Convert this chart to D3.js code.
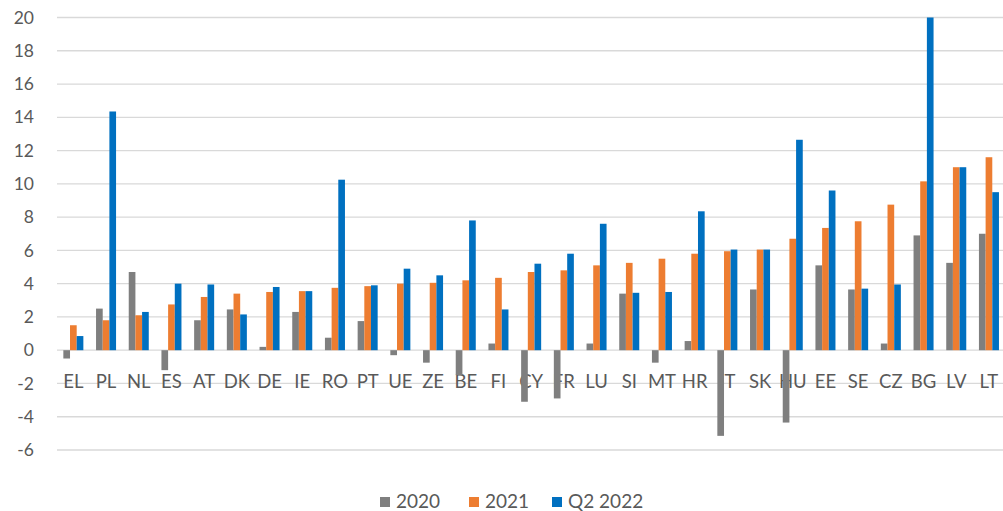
<!DOCTYPE html>
<html>
<head>
<meta charset="utf-8">
<script src="https://cdn.jsdelivr.net/npm/d3@7"></script>
<style>
  body { margin: 0; background: #fff; }
  svg { display: block; font-family: Lato, "Open Sans", sans-serif; }
</style>
</head>
<body>
<script>
var width = 1003;
var height = 511;

var countries = ["EL","PL","NL","ES","AT","DK","DE","IE","RO","PT","UE","ZE","BE","FI","CY","FR","LU","SI","MT","HR","IT","SK","HU","EE","SE","CZ","BG","LV","LT"];
var seriesNames = ["2020", "2021", "Q2 2022"];
var colors = ["#7f7f7f", "#ed7d31", "#0070c0"];

var v2020 = [-0.5, 2.5, 4.7, -1.2, 1.8, 2.45, 0.2, 2.3, 0.75, 1.75, -0.3, -0.75, -1.5, 0.4, -3.1, -2.9, 0.4, 3.4, -0.75, 0.55, -5.15, 3.65, -4.35, 5.1, 3.65, 0.4, 6.9, 5.25, 7.0];
var v2021 = [1.5, 1.8, 2.1, 2.75, 3.2, 3.4, 3.5, 3.55, 3.75, 3.85, 4.0, 4.05, 4.2, 4.35, 4.7, 4.8, 5.1, 5.25, 5.5, 5.8, 5.95, 6.05, 6.7, 7.35, 7.75, 8.75, 10.15, 11.0, 11.6];
var vQ2 = [0.85, 14.35, 2.3, 4.0, 3.95, 2.15, 3.8, 3.55, 10.25, 3.9, 4.9, 4.5, 7.8, 2.45, 5.2, 5.8, 7.6, 3.45, 3.5, 8.35, 6.05, 6.05, 12.65, 9.6, 3.7, 3.95, 20, 11.0, 9.5];
var yTicks = [20, 18, 16, 14, 12, 10, 8, 6, 4, 2, 0, -2, -4, -6];

var allValues = [v2020, v2021, vQ2];

var svg = d3.select("body").append("svg")
    .attr("width", width)
    .attr("height", height);

var y = d3.scaleLinear()
    .domain([-6, 20])
    .range([450, 17.5]);

var x = d3.scaleBand()
    .domain(countries)
    .range([57, 57 + 29 * 32.7])
    .padding(0);

var xSub = d3.scaleBand()
    .domain(seriesNames)
    .range([0, x.bandwidth()])
    .paddingInner(0)
    .paddingOuter(0.95);

// gridlines
svg.append("g")
  .selectAll("line")
  .data(yTicks)
  .enter().append("line")
    .attr("x1", 57)
    .attr("x2", width)
    .attr("y1", function(d) { return y(d); })
    .attr("y2", function(d) { return y(d); })
    .attr("stroke", "#d9d9d9")
    .attr("stroke-width", 1.3);

// y tick labels
svg.append("g")
  .selectAll("text")
  .data(yTicks)
  .enter().append("text")
    .attr("x", 34)
    .attr("y", function(d) { return y(d); })
    .attr("dy", "0.35em")
    .attr("text-anchor", "end")
    .attr("fill", "#595959")
    .style("font-size", "17.5px")
    .text(function(d) { return d; });

// category labels (drawn under the bars, as in the original)
svg.append("g")
  .selectAll("text")
  .data(countries)
  .enter().append("text")
    .attr("x", function(d) { return x(d) + x.bandwidth() / 2; })
    .attr("y", 388)
    .attr("text-anchor", "middle")
    .attr("fill", "#595959")
    .style("font-size", "18.5px")
    .text(function(d) { return d; });

// bars
seriesNames.forEach(function(s, i) {
  svg.append("g")
    .selectAll("rect")
    .data(allValues[i])
    .enter().append("rect")
      .attr("x", function(d, j) { return x(countries[j]) + xSub(s); })
      .attr("width", xSub.bandwidth())
      .attr("y", function(d) { return y(Math.max(0, d)); })
      .attr("height", function(d) { return Math.abs(y(d) - y(0)); })
      .attr("fill", colors[i]);
});

// legend
var legendX = [380, 469, 552];
var legend = svg.append("g")
  .selectAll("g")
  .data(seriesNames)
  .enter().append("g")
    .attr("transform", function(d, i) { return "translate(" + legendX[i] + ",0)"; });

legend.append("rect")
    .attr("x", 0)
    .attr("y", 497)
    .attr("width", 10)
    .attr("height", 10)
    .attr("fill", function(d, i) { return colors[i]; });

legend.append("text")
    .attr("x", 16)
    .attr("y", 508)
    .attr("fill", "#595959")
    .style("font-size", "19px")
    .text(function(d) { return d; });
</script>
</body>
</html>
